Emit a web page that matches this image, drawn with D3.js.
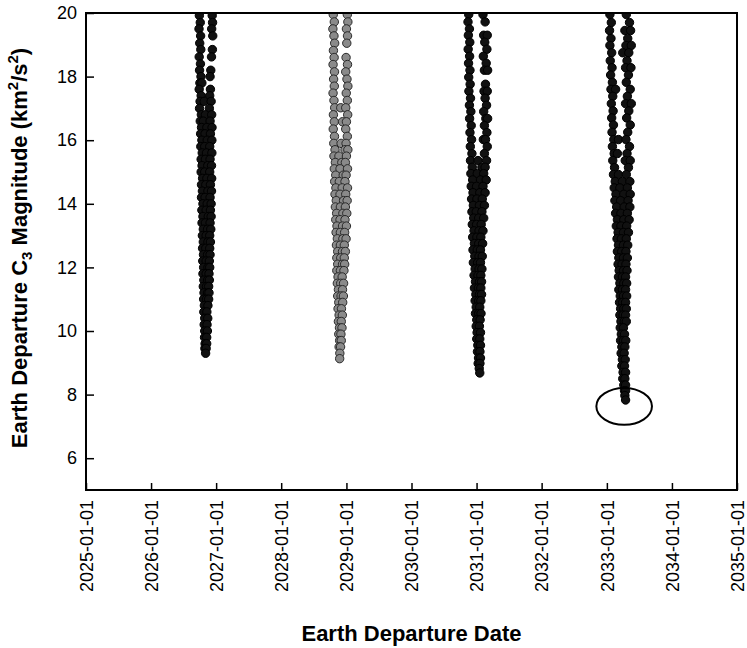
<!DOCTYPE html>
<html>
<head>
<meta charset="utf-8">
<script src="https://cdn.jsdelivr.net/npm/d3@7"></script>
<style>
  body { margin: 0; background: #fff; }
  svg { display: block; font-family: "Liberation Sans", Arial, sans-serif; }
</style>
</head>
<body>
<svg></svg>
<script>
// axis values
const yTicks = [6, 8, 10, 12, 14, 16, 18, 20];
const yearTicks = ["2025-01-01", "2026-01-01", "2027-01-01", "2028-01-01", "2029-01-01", "2030-01-01",
  "2031-01-01", "2032-01-01", "2033-01-01", "2034-01-01", "2035-01-01"];

// launch windows: first date of each window, rows are [C3, day offsets from that date]
const windowStarts = ["2026-09-01", "2028-10-01", "2030-10-01", "2032-12-01"];

const win2026 = [
  [19.92, [28, 100]], [19.7, [33, 102]], [19.5, [26, 97]], [19.28, [35, 103]], [19.05, [30]],
  [18.85, [36, 101]], [18.62, [27, 96]], [18.4, [34]], [18.2, [29, 92]], [18.0, [37, 88]],
  [17.8, [31, 42]], [17.6, [27, 90]], [17.4, [38, 86]], [17.22, [32, 55, 94]], [17.0, [29, 84]],
  [16.8, [39, 62, 97]], [16.6, [33, 50, 88]], [16.4, [40, 70, 99]], [16.2, [35, 60, 90]],
  [16.0, [42, 72, 98]], [15.8, [36, 58, 86]], [15.6, [44, 68, 98]], [15.4, [38, 62, 88]],
  [15.2, [43, 75, 96]], [15.0, [38, 58, 86]], [14.8, [46, 70, 97]], [14.6, [40, 64, 90]],
  [14.4, [45, 76, 96]], [14.2, [40, 60, 88]], [14.0, [48, 72, 94]], [13.8, [42, 66, 90]],
  [13.6, [48, 78, 94]], [13.4, [43, 62, 88]], [13.2, [50, 74, 92]], [13.0, [45, 66, 86]],
  [12.8, [50, 76, 90]], [12.6, [46, 64, 86]], [12.4, [51, 74, 88]], [12.2, [47, 66, 84]],
  [12.0, [52, 76, 86]], [11.8, [48, 66, 82]], [11.6, [53, 74, 84]], [11.4, [50, 68, 80]],
  [11.2, [54, 74, 82]], [11.0, [52, 68, 80]], [10.8, [56, 76]], [10.6, [53, 70]], [10.4, [58, 75]],
  [10.2, [55, 71]], [10.0, [58, 73]], [9.8, [57, 69]], [9.6, [60, 69]], [9.45, [59, 66]], [9.3, [63]]
];

const win2028 = [
  [19.95, [18, 97]], [19.72, [24, 100]], [19.5, [16, 92]], [19.28, [22, 98]], [19.05, [26, 94]],
  [18.82, [19]], [18.6, [23, 90]], [18.38, [17, 98]], [18.15, [25, 88]], [17.92, [20, 95]],
  [17.7, [24, 100]], [17.48, [17, 91]], [17.25, [22, 97]], [17.02, [26, 60, 88]], [16.8, [19, 99]],
  [16.58, [24, 70, 92]], [16.35, [18, 88]], [16.12, [25, 97]], [15.9, [21, 62, 90]],
  [15.7, [28, 84, 100]], [15.5, [22, 50, 92]], [15.3, [30, 66, 86]], [15.1, [24, 56, 98]],
  [14.9, [32, 74, 90]], [14.7, [26, 52, 84]], [14.5, [33, 68, 98]], [14.3, [28, 56, 88]],
  [14.1, [35, 76, 96]], [13.9, [30, 58, 86]], [13.7, [37, 72, 94]], [13.5, [32, 56, 84]],
  [13.3, [39, 70, 92]], [13.1, [34, 58, 82]], [12.9, [41, 72, 90]], [12.7, [36, 58, 80]],
  [12.5, [43, 70, 86]], [12.3, [38, 60, 80]], [12.1, [43, 70, 82]], [11.9, [38, 58, 78]],
  [11.7, [45, 68]], [11.5, [41, 60, 76]], [11.3, [47, 70]], [11.1, [43, 62, 75]], [10.9, [49, 71]],
  [10.7, [45, 64]], [10.5, [51, 69]], [10.3, [47, 63]], [10.1, [53, 67]], [9.9, [49, 61]],
  [9.7, [54, 63]], [9.5, [51, 59]], [9.3, [55]], [9.13, [54]]
];

const win2030 = [
  [19.95, [48, 128]], [19.72, [44, 140]], [19.5, [52]], [19.3, [46, 132, 152]], [19.08, [54, 138]],
  [18.86, [45, 150]], [18.64, [53, 130]], [18.42, [47, 146]], [18.2, [55, 136, 154]], [17.98, [48]],
  [17.76, [56, 142]], [17.54, [49, 134, 152]], [17.32, [58, 140]], [17.1, [52, 148]], [16.9, [60, 132]],
  [16.68, [53, 144, 154]], [16.46, [62, 136]], [16.24, [55, 150]], [16.02, [64, 130, 142]],
  [15.8, [57, 152]], [15.58, [66, 136]], [15.36, [58, 100, 148]], [15.15, [68, 122, 140]],
  [14.95, [60, 96, 132]], [14.75, [70, 114, 146]], [14.55, [62, 92, 128]], [14.35, [72, 110, 140]],
  [14.15, [64, 94, 124]], [13.95, [74, 108, 136]], [13.75, [66, 90, 122]], [13.55, [76, 104, 132]],
  [13.35, [68, 92, 118]], [13.15, [78, 106, 128]], [12.95, [70, 94, 116]], [12.75, [80, 104, 126]],
  [12.55, [72, 96, 114]], [12.35, [82, 106, 124]], [12.15, [74, 98, 114]], [11.95, [84, 106, 122]],
  [11.75, [78, 100, 116]], [11.55, [86, 108, 120]], [11.35, [80, 102, 116]], [11.15, [88, 108, 120]],
  [10.95, [84, 104, 116]], [10.75, [90, 110]], [10.55, [86, 104, 117]], [10.35, [93, 112]],
  [10.15, [90, 108]], [9.95, [95, 114]], [9.75, [93, 110]], [9.55, [99, 114]], [9.35, [97, 111]],
  [9.15, [103, 114]], [8.98, [101, 111]], [8.82, [107]], [8.68, [110]]
];

const win2032 = [
  [19.95, [48, 140]], [19.7, [56, 158]], [19.45, [46, 132, 164]], [19.2, [54, 148]],
  [18.98, [48, 138, 168]], [18.75, [58, 120, 154]], [18.5, [50, 144]], [18.28, [60, 136, 166]],
  [18.05, [52, 152]], [17.82, [62, 140]], [17.6, [54, 80, 162]], [17.38, [64, 146]],
  [17.15, [56, 136, 168]], [16.92, [66, 154]], [16.7, [58, 142]], [16.48, [68, 162]], [16.25, [60, 148]],
  [16.02, [70, 96, 138]], [15.8, [62, 158]], [15.58, [72, 90, 144]], [15.36, [64, 134, 162]],
  [15.14, [74, 152]], [14.92, [68, 96, 140]], [14.7, [78, 118, 160]], [14.5, [72, 104, 146]],
  [14.3, [82, 126, 162]], [14.1, [76, 108, 150]], [13.9, [86, 128, 160]], [13.7, [80, 110, 146]],
  [13.5, [90, 126, 156]], [13.3, [84, 110, 142]], [13.1, [94, 124, 152]], [12.9, [88, 112, 140]],
  [12.7, [96, 124, 148]], [12.5, [90, 114, 138]], [12.3, [98, 124, 146]], [12.1, [94, 116, 138]],
  [11.9, [100, 124, 144]], [11.7, [96, 118, 136]], [11.5, [104, 126, 142]], [11.3, [98, 118, 136]],
  [11.1, [106, 124, 142]], [10.9, [102, 120, 136]], [10.7, [108, 126, 140]], [10.5, [104, 122, 136]],
  [10.3, [110, 128, 140]], [10.1, [106, 124]], [9.9, [112, 130]], [9.7, [108, 124, 137]],
  [9.5, [115, 132]], [9.3, [111, 128]], [9.1, [118, 134]], [8.9, [115, 130]], [8.7, [122, 136]],
  [8.5, [120, 132]], [8.3, [126, 136]], [8.12, [130, 136]], [7.97, [132]], [7.83, [136]]
];

// the marked minimum: centre date, centre C3, half width in days, half height in C3
const minMarkDate = "2033-04-08";
const minMarkC3 = 7.63;
const minMarkDays = 156;
const minMarkHalfC3 = 0.58;

const W = 747, H = 648;
const margin = { top: 13, right: 10, bottom: 158, left: 86 };

const svg = d3.select("svg").attr("width", W).attr("height", H);
const parse = d3.utcParse("%Y-%m-%d");

const x = d3.scaleUtc()
  .domain([parse(yearTicks[0]), parse(yearTicks[yearTicks.length - 1])])
  .range([margin.left, W - margin.right]);
const y = d3.scaleLinear().domain([5, 20]).range([H - margin.bottom, margin.top]);

const windows = [win2026, win2028, win2030, win2032];
const styles = [
  { fill: "#111", stroke: "#000" },
  { fill: "#8a8a8a", stroke: "#2a2a2a" },
  { fill: "#111", stroke: "#000" },
  { fill: "#111", stroke: "#000" }
];

const points = [];
windows.forEach((rows, w) => {
  const start = parse(windowStarts[w]);
  rows.forEach(([c3, days]) => {
    days.forEach(dd => points.push({ date: d3.utcDay.offset(start, dd), c3, w }));
  });
});

svg.append("clipPath").attr("id", "plot-clip")
  .append("rect")
  .attr("x", x.range()[0]).attr("y", y.range()[1])
  .attr("width", x.range()[1] - x.range()[0])
  .attr("height", y.range()[0] - y.range()[1]);

svg.append("g").attr("clip-path", "url(#plot-clip)")
  .selectAll("circle").data(points).enter().append("circle")
  .attr("cx", d => x(d.date))
  .attr("cy", d => y(d.c3))
  .attr("r", 4.2)
  .attr("fill", d => styles[d.w].fill)
  .attr("stroke", d => styles[d.w].stroke)
  .attr("stroke-width", 1);

// circle round the lowest C3
const mc = parse(minMarkDate);
svg.append("ellipse")
  .attr("cx", x(mc))
  .attr("cy", y(minMarkC3))
  .attr("rx", x(d3.utcDay.offset(mc, minMarkDays)) - x(mc))
  .attr("ry", y(minMarkC3 - minMarkHalfC3) - y(minMarkC3))
  .attr("fill", "none").attr("stroke", "#000").attr("stroke-width", 2);

// axes
const gx = svg.append("g").attr("transform", `translate(0,${y.range()[0]})`)
  .call(d3.axisBottom(x).tickValues(yearTicks.map(parse))
    .tickFormat(d3.utcFormat("%Y-%m-%d")).tickSizeInner(-7).tickSizeOuter(0));
gx.attr("font-size", 18).attr("font-family", null);
gx.select(".domain").remove();
gx.selectAll(".tick line").attr("stroke-width", 1.5);
gx.selectAll(".tick text")
  .attr("transform", "rotate(-90)")
  .attr("x", -10).attr("y", 0).attr("dy", "0.35em")
  .style("text-anchor", "end").attr("fill", "#000");

const gy = svg.append("g").attr("transform", `translate(${x.range()[0]},0)`)
  .call(d3.axisLeft(y).tickValues(yTicks).tickSizeInner(-8).tickSizeOuter(0).tickPadding(9));
gy.attr("font-size", 18).attr("font-family", null);
gy.select(".domain").remove();
gy.selectAll(".tick line").attr("stroke-width", 1.5);
gy.selectAll(".tick text").attr("fill", "#000");

// frame
svg.append("rect")
  .attr("x", x.range()[0]).attr("y", y.range()[1])
  .attr("width", x.range()[1] - x.range()[0])
  .attr("height", y.range()[0] - y.range()[1])
  .attr("fill", "none").attr("stroke", "#000").attr("stroke-width", 2);

// titles
svg.append("text")
  .attr("x", (x.range()[0] + x.range()[1]) / 2).attr("y", 641)
  .attr("text-anchor", "middle").attr("font-size", 22).attr("font-weight", "bold")
  .text("Earth Departure Date");

const yt = svg.append("text")
  .attr("transform", "translate(27,248) rotate(-90)")
  .attr("text-anchor", "middle").attr("font-size", 22).attr("font-weight", "bold");
yt.append("tspan").text("Earth Departure C");
yt.append("tspan").attr("font-size", 15).attr("dy", 5).text("3");
yt.append("tspan").attr("dy", -5).text(" Magnitude (km");
yt.append("tspan").attr("font-size", 15).attr("dy", -9).text("2");
yt.append("tspan").attr("dy", 9).text("/s");
yt.append("tspan").attr("font-size", 15).attr("dy", -9).text("2");
yt.append("tspan").attr("dy", 9).text(")");
</script>
</body>
</html>
